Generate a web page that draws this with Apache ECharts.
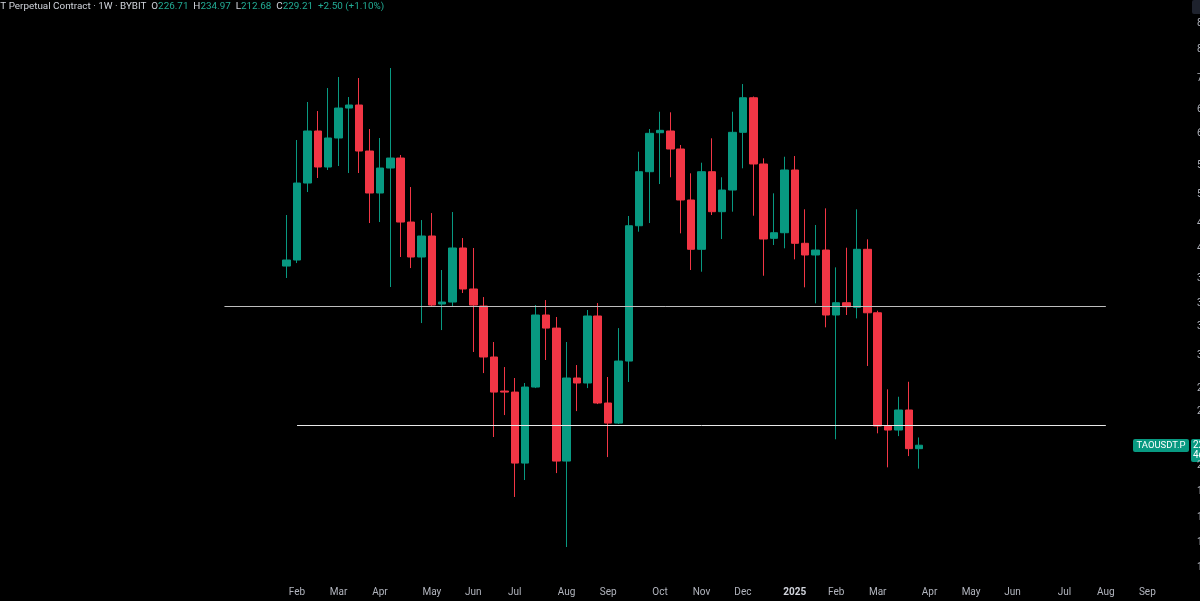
<!DOCTYPE html>
<html><head><meta charset="utf-8">
<script src="https://cdn.jsdelivr.net/npm/echarts@6/dist/echarts.min.js"></script>
<style>html,body{margin:0;padding:0;background:#000;overflow:hidden}#c{width:1200px;height:601px}</style>
</head><body><div id="c"></div>
<script>
// Weekly TAOUSDT.P (Bybit), weeks starting Monday 2024-01-29
const firstCandleWeek = '2024-01-29';
const open  = [406.2,414.1,529.5,625.2,557.3,611.4,672.8,679.3,586.5,512.9,555.5,573.5,467.5,418.1,447.1,359.8,362.1,430.3,377.5,357.5,303.8,272.5,271.6,216.5,276.0,347.4,333.2,217.9,284.1,279.6,346.3,262.3,246.0,299.9,462.0,549.0,621.8,625.2,590.3,501.6,428.5,549.0,483.2,517.8,622.6,695.3,562.7,443.8,451.8,552.0,436.8,420.8,427.5,347.4,361.3,356.0,428.5,349.9,243.7,240.6,256.5,226.71];
const close = [414.1,529.5,625.2,557.3,611.4,672.8,679.3,586.5,512.9,555.5,573.5,467.5,418.1,447.1,358.6,362.1,430.3,377.5,358.6,303.8,271.6,271.6,216.5,276.0,347.4,333.2,217.9,284.1,279.6,346.3,262.3,246.0,299.9,462.0,549.0,620.6,626.6,590.3,501.6,428.5,549.0,483.2,517.8,622.6,695.3,562.7,442.8,451.8,552.0,436.8,420.8,427.5,347.4,361.3,356.7,428.5,349.9,243.7,240.6,256.5,226.71,229.21];
const low   = [391.0,410.1,514.5,538.1,552.0,559.1,546.7,546.7,466.0,467.5,379.9,418.1,403.6,338.6,356.4,331.1,356.4,372.7,308.7,288.6,235.3,252.4,194.3,205.1,275.1,300.9,209.7,165.6,255.6,275.1,261.4,220.7,245.3,280.5,453.3,466.0,527.8,539.3,450.9,401.1,398.9,478.1,442.8,483.2,555.0,477.0,393.8,434.4,429.9,415.0,379.5,360.6,334.0,233.6,347.4,343.7,295.2,238.1,213.6,236.0,221.4,212.68];
const high  = [478.1,607.5,685.9,666.4,717.2,742.9,696.9,740.5,629.2,611.4,764.5,579.1,522.8,470.5,481.1,401.1,482.7,444.2,430.3,367.9,318.7,294.2,284.1,279.6,358.6,364.4,345.2,318.7,296.1,353.0,360.9,285.0,333.2,476.6,585.2,629.2,664.9,663.7,597.9,546.2,565.0,610.8,539.3,664.9,726.4,698.0,573.0,512.4,575.9,577.2,486.9,463.1,488.4,404.5,430.7,486.9,442.4,352.2,274.0,267.6,280.7,234.97];
// horizontal drawn levels: [price, startWeek, endWeek, colour]
const levels = [[357.8,'2023-12-18','2025-08-04','#bdbdbd'],[244.2,'2024-02-05','2025-08-04','#e8e8e8']];
// right price-scale labels (only first glyph visible in reference)
const yTicks = [880,810,740,670,620,560,510,465,430,390,360,335,305,275,255,215,198,182,168,155];
const monthNames = ['Jan','Feb','Mar','Apr','May','Jun','Jul','Aug','Sep','Oct','Nov','Dec'];

const UP = '#089981', DOWN = '#f23645';
// week categories: 27 empty weeks before the first candle, future weeks after
const weeks = [];
const t0 = Date.UTC(2024,0,29) - 27*7*86400000;
for (let k = 0; k < 115; k++) weeks.push(new Date(t0 + k*7*86400000).toISOString().slice(0,10));
const offset = weeks.indexOf(firstCandleWeek);
const candles = open.map((o,i)=>[weeks[offset+i], o, close[i], low[i], high[i]]);

const chart = echarts.init(document.getElementById('c'));
chart.setOption({
  backgroundColor:'#000',
  animation:false,
  grid:{left:1.5, right:6, top:0, bottom:23, containLabel:false, outerBoundsMode:'none'},
  xAxis:{
    type:'category', data:weeks, boundaryGap:true,
    axisLine:{show:false}, axisTick:{show:false}, splitLine:{show:false},
    axisLabel:{
      color:'#b2b5be', fontSize:10, fontFamily:'Roboto', margin:9,
      interval:(idx,val)=> idx>=offset && +val.slice(8,10)<=7,
      formatter:(val)=>{const m=+val.slice(5,7); return m===1?'{y|'+val.slice(0,4)+'}':monthNames[m-1];},
      rich:{y:{fontWeight:'bold',color:'#d1d4dc',fontSize:10,fontFamily:'Roboto'}}
    }
  },
  yAxis:{
    type:'log', logBase:10, min:150, max:950, position:'right',
    axisLine:{show:false}, axisTick:{show:false}, splitLine:{show:false},
    axisLabel:{customValues:yTicks, color:'#b2b5be', fontSize:10, fontFamily:'Roboto', margin:3, formatter:v=>v.toFixed(2)}
  },
  series:[{
    type:'candlestick', data:candles, encode:{x:0,y:[1,2,3,4]},
    barWidth:8, clip:false,
    itemStyle:{color:UP,color0:DOWN,borderColor:UP,borderColor0:DOWN,borderWidth:1},
    markLine:{
      silent:true, symbol:'none', label:{show:false}, animation:false,
      data: levels.map(l=>[{coord:[l[1],l[0]],lineStyle:{color:l[3],width:1,type:'solid'}},{coord:[l[2],l[0]]}])
    }
  }]
});

const last = open.length-1;
const lastClose = close[last];
const chg = close[last]-close[last-1];
const pct = chg/close[last-1]*100;
const yP = chart.convertToPixel({yAxisIndex:0}, lastClose);
const fs = 9.9;
chart.setOption({graphic:[
  {type:'text', x:-37, y:1.5, style:{
    text:'{n|TAOUSDT Perpetual Contract · 1W · BYBIT}  {k|O}{v|'+open[last].toFixed(2)+'}  {k|H}{v|'+high[last].toFixed(2)+'}  {k|L}{v|'+low[last].toFixed(2)+'}  {k|C}{v|'+close[last].toFixed(2)+'}  {v|+'+chg.toFixed(2)+' (+'+pct.toFixed(2)+'%)}',
    fontSize:fs, fontFamily:'Roboto', fill:'#d1d4dc',
    rich:{n:{fill:'#d1d4dc',fontSize:fs,fontFamily:'Roboto'},k:{fill:'#d1d4dc',fontSize:fs,fontFamily:'Roboto'},v:{fill:'#22ab94',fontSize:fs,fontFamily:'Roboto'}}
  }},
  {type:'rect', shape:{x:1133,y:Math.round(yP)-6,width:56,height:13,r:2}, style:{fill:UP}},
  {type:'text', x:1161, y:Math.round(yP)+0.5, style:{text:'TAOUSDT.P',fill:'#fff',fontSize:9.5,fontFamily:'Roboto',align:'center',verticalAlign:'middle'}},
  {type:'rect', shape:{x:1191,y:Math.round(yP)-6,width:40,height:23,r:2}, style:{fill:UP}},
  {type:'text', x:1193, y:Math.round(yP)+0.5, style:{text:lastClose.toFixed(2),fill:'#fff',fontSize:10,fontFamily:'Roboto',verticalAlign:'middle'}},
  {type:'text', x:1193, y:Math.round(yP)+10.5, style:{text:'4d 20h',fill:'#fff',fontSize:10,fontFamily:'Roboto',verticalAlign:'middle'}},
  {type:'rect', shape:{x:1192,y:0,width:10,height:14,r:2}, style:{fill:'#1e222d'}}
]});
</script></body></html>
